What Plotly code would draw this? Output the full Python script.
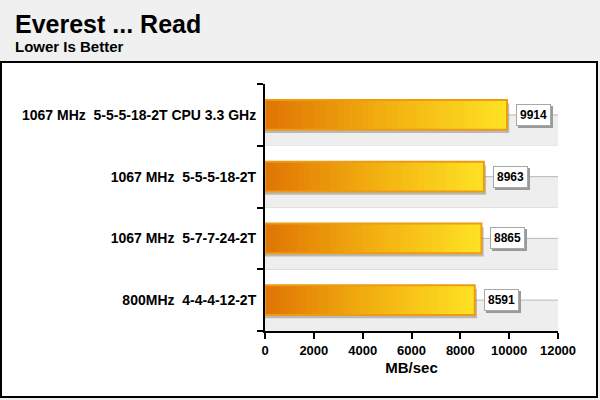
import plotly.graph_objects as go

categories = [
    "1067 MHz \u00a05-5-5-18-2T CPU 3.3 GHz",
    "1067 MHz \u00a05-5-5-18-2T",
    "1067 MHz \u00a05-7-7-24-2T",
    "800MHz \u00a04-4-4-12-2T",
]
values = [9914, 8963, 8865, 8591]
x_ticks = [0, 2000, 4000, 6000, 8000, 10000, 12000]
title_text = "Everest ... Read"
subtitle_text = "Lower Is Better"
x_title = "MB/sec"

FONT = "Liberation Sans, Arial, sans-serif"
BAR_W = 0.48
N_SEG = 40


def lerp_color(t):
    stops = [(0.0, (224, 116, 4)), (0.5, (242, 176, 16)), (1.0, (255, 226, 36))]
    for (t0, c0), (t1, c1) in zip(stops[:-1], stops[1:]):
        if t <= t1:
            f = (t - t0) / (t1 - t0)
            return "rgb(%d,%d,%d)" % tuple(round(a + (b - a) * f) for a, b in zip(c0, c1))
    return "rgb(%d,%d,%d)" % stops[-1][1]


fig = go.Figure()
ypos = list(range(len(categories)))

# shadow under bars
fig.add_trace(go.Bar(
    y=ypos, x=[v + 90 for v in values], orientation="h",
    width=BAR_W, offset=-BAR_W / 2 + 0.055,
    marker=dict(color="rgba(120,120,120,0.45)", line=dict(width=0)),
    hoverinfo="skip", showlegend=False,
))

# gradient segments (overlapping so no seams show)
for i in range(N_SEG):
    bases = [v * i / N_SEG for v in values]
    fig.add_trace(go.Bar(
        y=ypos,
        x=[min(2.5 * v / N_SEG, v - b) for v, b in zip(values, bases)],
        base=bases,
        orientation="h", width=BAR_W,
        marker=dict(color=lerp_color((i + 0.5) / N_SEG), line=dict(width=0)),
        hoverinfo="skip", showlegend=False,
    ))

# outline
fig.add_trace(go.Bar(
    y=ypos, x=values, orientation="h", width=BAR_W,
    marker=dict(color="rgba(0,0,0,0)", line=dict(color="#ee9a12", width=2)),
    showlegend=False,
))

shapes = []
# white framed box
shapes.append(dict(type="rect", xref="paper", yref="paper",
                   x0=(1 - 265) / 293, x1=(597 - 265) / 293,
                   y0=(331 - 397) / 247, y1=(331 - 62) / 247,
                   fillcolor="white", line=dict(color="black", width=2), layer="below"))
for i in range(len(categories)):
    shapes.append(dict(type="rect", xref="x", yref="y", x0=0, x1=x_ticks[-1],
                       y0=i, y1=i + 0.5, fillcolor="#eeeeee", line=dict(width=0), layer="between"))
for i in range(len(categories)):
    shapes.append(dict(type="line", xref="x", yref="y", x0=0, x1=x_ticks[-1],
                       y0=i, y1=i, line=dict(color="#b8b8b8", width=1), layer="between"))

annotations = [
    dict(text=title_text, xref="paper", yref="paper", x=(13 - 265) / 293, y=(331 - 8) / 247,
         xanchor="left", yanchor="top", showarrow=False,
         font=dict(family=FONT, size=25, color="black", weight="bold")),
    dict(text=subtitle_text, xref="paper", yref="paper", x=(13 - 265) / 293, y=(331 - 36) / 247,
         xanchor="left", yanchor="top", showarrow=False,
         font=dict(family=FONT, size=15, color="black", weight="bold")),
]
for i, v in enumerate(values):
    annotations.append(dict(text="\u2007" * len(str(v)), x=v, y=i, xref="x", yref="y", xanchor="left",
                            xshift=11, yshift=-2, showarrow=False,
                            bgcolor="#9a9a9a", borderpad=3, borderwidth=1, bordercolor="#9a9a9a",
                            font=dict(family=FONT, size=12, color="rgba(0,0,0,0)", weight="bold")))
    annotations.append(dict(text=str(v), x=v, y=i, xref="x", yref="y", xanchor="left",
                            xshift=9, showarrow=False,
                            bgcolor="white", borderpad=3, borderwidth=1, bordercolor="#a8a8a8",
                            font=dict(family=FONT, size=12, color="black", weight="bold")))

fig.update_layout(
    width=600, height=400,
    margin=dict(l=265, r=42, t=84, b=69),
    paper_bgcolor="#f0f0f0", plot_bgcolor="white",
    barmode="overlay",
    showlegend=False,
    shapes=shapes, annotations=annotations,
    font=dict(family=FONT, color="black"),
)
fig.update_xaxes(
    range=[0, x_ticks[-1]], tickvals=x_ticks, ticktext=[str(t) for t in x_ticks],
    showgrid=False, zeroline=False,
    showline=True, linecolor="black", linewidth=2,
    ticks="outside", ticklen=6, tickwidth=2, tickcolor="black",
    tickfont=dict(family=FONT, size=13, color="black", weight="bold"),
    title=dict(text=x_title, font=dict(family=FONT, size=15, color="black", weight="bold"), standoff=6),
)
fig.update_yaxes(
    range=[len(categories) - 0.5, -0.5],
    tickmode="array",
    tickvals=ypos, ticktext=categories,
    showgrid=False, zeroline=False,
    showline=True, linecolor="black", linewidth=2,
    ticks="",
    tickfont=dict(family=FONT, size=14, color="black", weight="bold"),
    ticklabelstandoff=4,
)
fig.update_yaxes(minor=dict(tickmode="array", tickvals=[i - 0.5 for i in range(len(categories) + 1)],
                            ticks="outside", ticklen=6, tickwidth=2, tickcolor="black",
                            showgrid=True, gridcolor="#d4d4d4", gridwidth=1))

fig.write_html("out.html", config={"displayModeBar": False},
               post_script="document.body.style.margin='0';document.body.style.overflow='hidden';")
